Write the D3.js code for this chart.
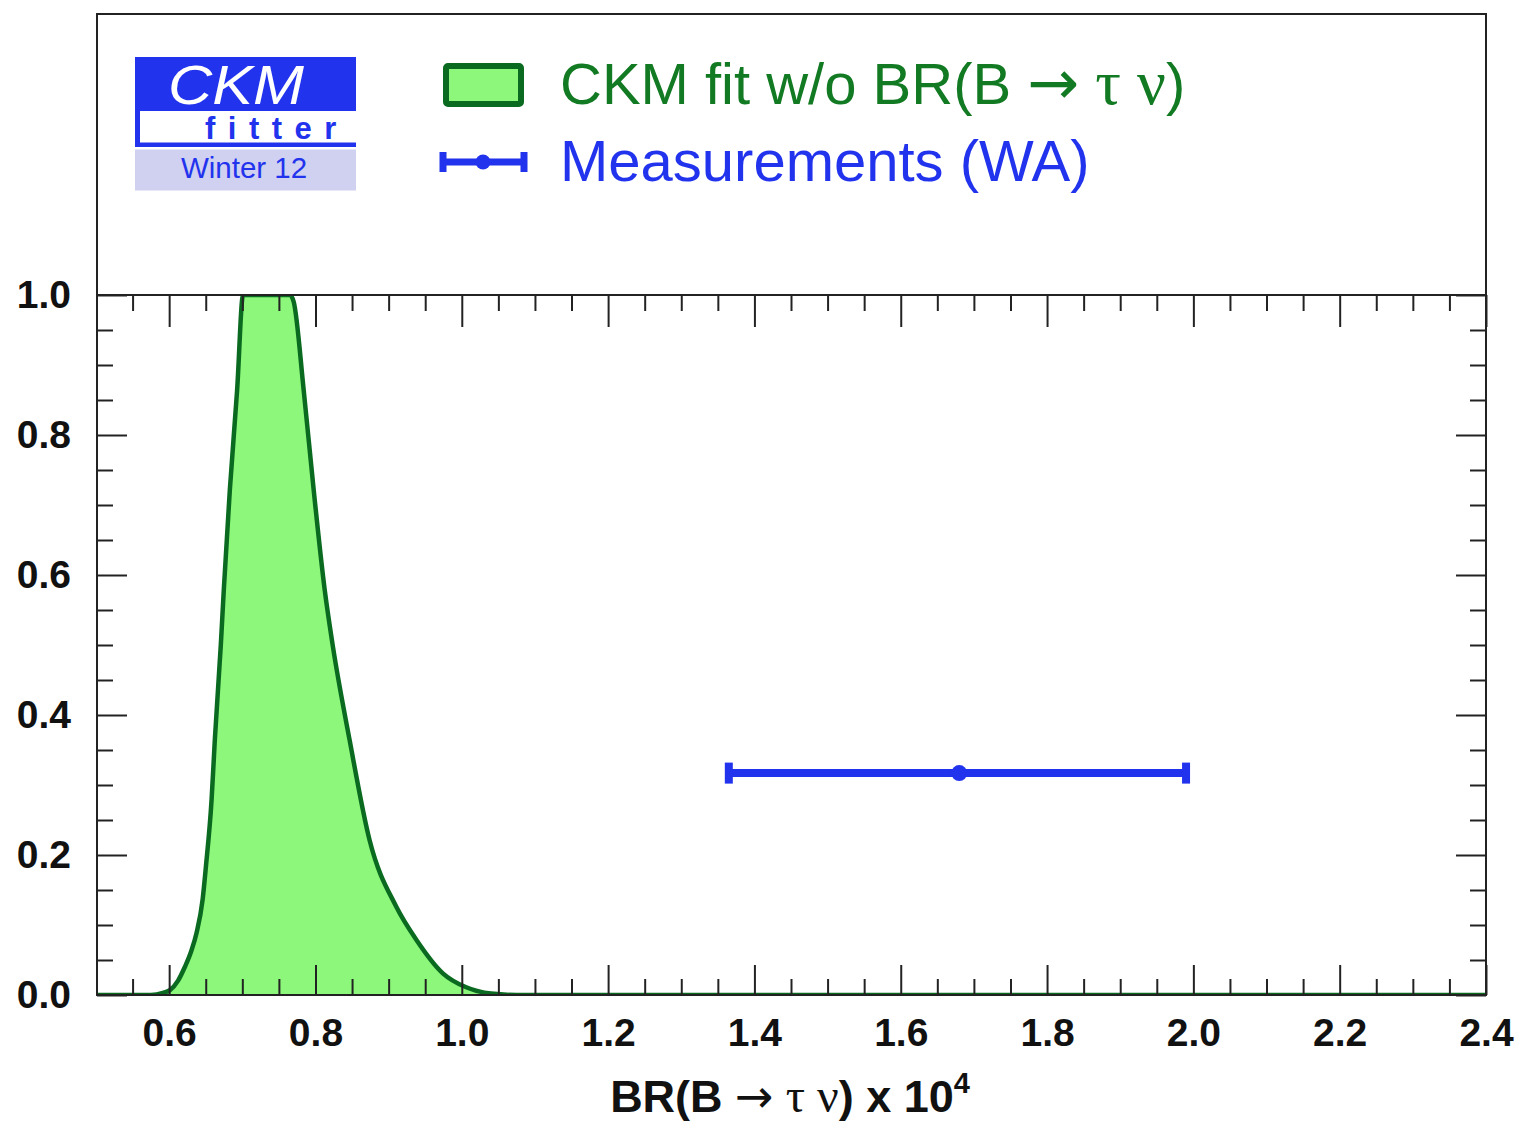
<!DOCTYPE html>
<html>
<head>
<meta charset="utf-8">
<script src="https://cdnjs.cloudflare.com/ajax/libs/d3/7.8.5/d3.min.js"></script>
<style>
  body { margin: 0; background: #fff; }
  text { font-family: "Liberation Sans", Arial, sans-serif; }
</style>
</head>
<body>
<svg width="1515" height="1123"></svg>
<script>
// CKM fit p-value curve (BR in units of 1e-4 vs 1-CL)
var brVals = [0.50, 0.575, 0.5915, 0.601, 0.6124, 0.6214, 0.6306, 0.6375, 0.6457, 0.6502, 0.658, 0.6624, 0.6706, 0.6747, 0.6829, 0.6929, 0.701,
              0.765, 0.7703, 0.7839, 0.7976, 0.8126, 0.8235, 0.8467, 0.874, 0.9105, 0.9378, 0.9741, 1.006, 1.04, 1.075, 2.40];
var pVals  = [0, 0, 0.003, 0.007, 0.021, 0.040, 0.064, 0.089, 0.136, 0.183, 0.279, 0.364, 0.5, 0.579, 0.721, 0.864, 1.0,
              1.0, 0.99, 0.864, 0.721, 0.579, 0.5, 0.364, 0.221, 0.126, 0.079, 0.031, 0.011, 0.002, 0, 0];

// world average measurement
var measCentral = [1.68];
var measLow = [1.365];
var measHigh = [1.99];
var measY = [0.317];

var xMajor = [0.6, 0.8, 1.0, 1.2, 1.4, 1.6, 1.8, 2.0, 2.2, 2.4];
var yMajor = [0.0, 0.2, 0.4, 0.6, 0.8, 1.0];

var green = '#117a22', greenFill = '#8cf77a', greenLine = '#0a6a20';
var blue = '#2233ee';
var arrowFont = '"DejaVu Sans", sans-serif';
var greekFont = '"Liberation Serif", serif';

var svg = d3.select('svg');
var pLeft = 96, pRight = 1486, pTop = 295, pBottom = 995;

var xscale = d3.scaleLinear().domain([0.5, 2.4]).range([pLeft, pRight]);
var yscale = d3.scaleLinear().domain([0, 1]).range([pBottom, pTop]);

var xMinor = d3.range(0.55, 2.4, 0.05).filter(v => Math.abs(v*5 - Math.round(v*5)) > 1e-6);
var yMinor = d3.range(0.05, 1.0, 0.05).filter(v => Math.abs(v*5 - Math.round(v*5)) > 1e-6);

svg.append('rect').attr('width', 1515).attr('height', 1123).attr('fill', '#fff');

// clip for the plot area
svg.append('clipPath').attr('id', 'plotclip')
  .append('rect').attr('x', pLeft).attr('y', pTop).attr('width', pRight-pLeft).attr('height', pBottom-pTop);

// curve
var pts = brVals.map((d, i) => [d, pVals[i]]);
var area = d3.area()
  .x(d => xscale(d[0]))
  .y0(yscale(0))
  .y1(d => yscale(d[1]))
  .curve(d3.curveMonotoneX);
var line = d3.line()
  .x(d => xscale(d[0]))
  .y(d => yscale(d[1]))
  .curve(d3.curveMonotoneX);

var plot = svg.append('g').attr('clip-path', 'url(#plotclip)');
plot.append('path').datum(pts).attr('d', area).attr('fill', greenFill);
plot.append('path').datum(pts).attr('d', line).attr('fill', 'none')
  .attr('stroke', greenLine).attr('stroke-width', 4.5).attr('stroke-linejoin', 'round');

// axes
var fmt = d3.format('.1f');
function styleAxis(g) {
  g.select('.domain').remove();
  g.selectAll('line').attr('stroke', '#222').attr('stroke-width', 2);
  g.selectAll('text').attr('font-size', 39).attr('font-weight', 'bold')
    .attr('fill', '#111').attr('font-family', '"Liberation Sans", Arial, sans-serif');
}

svg.append('g').attr('transform', `translate(0,${pBottom})`)
  .call(d3.axisBottom(xscale).tickValues(xMajor).tickFormat(fmt).tickSize(-30).tickPadding(23))
  .call(styleAxis);
svg.append('g').attr('transform', `translate(0,${pBottom})`)
  .call(d3.axisBottom(xscale).tickValues(xMinor).tickFormat('').tickSize(-16))
  .call(styleAxis);
svg.append('g').attr('transform', `translate(0,${pTop})`)
  .call(d3.axisTop(xscale).tickValues(xMajor).tickFormat('').tickSize(-32))
  .call(styleAxis);
svg.append('g').attr('transform', `translate(0,${pTop})`)
  .call(d3.axisTop(xscale).tickValues(xMinor).tickFormat('').tickSize(-16))
  .call(styleAxis);

svg.append('g').attr('transform', `translate(${pLeft+1},0)`)
  .call(d3.axisLeft(yscale).tickValues(yMajor).tickFormat(fmt).tickSize(-30).tickPadding(26))
  .call(styleAxis);
svg.append('g').attr('transform', `translate(${pLeft+1},0)`)
  .call(d3.axisLeft(yscale).tickValues(yMinor).tickFormat('').tickSize(-16))
  .call(styleAxis);
svg.append('g').attr('transform', `translate(${pRight},0)`)
  .call(d3.axisRight(yscale).tickValues(yMajor).tickFormat('').tickSize(-30))
  .call(styleAxis);
svg.append('g').attr('transform', `translate(${pRight},0)`)
  .call(d3.axisRight(yscale).tickValues(yMinor).tickFormat('').tickSize(-16))
  .call(styleAxis);

// frame
svg.append('rect').attr('x', pLeft+1).attr('y', 14).attr('width', pRight-pLeft-1).attr('height', pBottom-14)
  .attr('fill', 'none').attr('stroke', '#222').attr('stroke-width', 2);
svg.append('line').attr('x1', pLeft+1).attr('x2', pRight).attr('y1', pTop).attr('y2', pTop)
  .attr('stroke', '#222').attr('stroke-width', 2);

// measurement error bar
var meas = svg.append('g').attr('fill', blue).attr('stroke', blue);
measCentral.forEach((c, i) => {
  var yy = yscale(measY[i]);
  meas.append('line').attr('x1', xscale(measLow[i])).attr('x2', xscale(measHigh[i]))
    .attr('y1', yy).attr('y2', yy).attr('stroke-width', 8);
  [measLow[i], measHigh[i]].forEach(v => {
    meas.append('rect').attr('x', xscale(v) - 4).attr('y', yy - 10.5)
      .attr('width', 8).attr('height', 21).attr('stroke', 'none');
  });
  meas.append('circle').attr('cx', xscale(c)).attr('cy', yy).attr('r', 8).attr('stroke', 'none');
});

// axis title
var title = svg.append('text').attr('x', 790).attr('y', 1112).attr('text-anchor', 'middle')
  .attr('font-size', 45).attr('font-weight', 'bold').attr('fill', '#111');
title.append('tspan').text('BR(B ');
title.append('tspan').attr('font-family', arrowFont).attr('font-weight', 'normal').attr('font-size', 46).text('\u2192');
title.append('tspan').attr('font-family', greekFont).attr('font-weight', 'normal').attr('font-size', 48).text(' \u03c4 \u03bd');
title.append('tspan').text(') x 10');
title.append('tspan').attr('font-size', 29).attr('dy', -19).text('4');

// CKMfitter logo
var logo = svg.append('g');
logo.append('rect').attr('x', 135).attr('y', 57).attr('width', 221).attr('height', 90).attr('fill', blue);
logo.append('rect').attr('x', 140).attr('y', 111).attr('width', 216).attr('height', 31.5).attr('fill', '#fff');
logo.append('rect').attr('x', 135).attr('y', 149.5).attr('width', 221).attr('height', 41).attr('fill', '#d0d0f0');
logo.append('text').attr('x', 168).attr('y', 104).attr('font-size', 55).attr('font-style', 'italic')
  .attr('textLength', 136).attr('lengthAdjust', 'spacingAndGlyphs')
  .attr('fill', '#fff').text('CKM');
logo.append('text').attr('x', 205).attr('y', 139).attr('font-size', 31).attr('font-weight', 'bold')
  .attr('letter-spacing', 12.5).attr('fill', blue).text('fitter');
logo.append('text').attr('x', 244).attr('y', 178).attr('text-anchor', 'middle').attr('font-size', 29.5)
  .attr('fill', blue).text('Winter 12');

// legend
var leg = svg.append('g');
leg.append('rect').attr('x', 446).attr('y', 66).attr('width', 75).attr('height', 38)
  .attr('fill', greenFill).attr('stroke', greenLine).attr('stroke-width', 6).attr('rx', 2);
var t1 = leg.append('text').attr('x', 560).attr('y', 104).attr('font-size', 58).attr('fill', green);
t1.append('tspan').text('CKM fit w/o BR(B ');
t1.append('tspan').attr('font-family', arrowFont).attr('font-size', 62).text('\u2192');
t1.append('tspan').attr('font-family', greekFont).attr('font-size', 64).text(' \u03c4 \u03bd');
t1.append('tspan').text(')');

leg.append('line').attr('x1', 443).attr('x2', 524).attr('y1', 162).attr('y2', 162)
  .attr('stroke', blue).attr('stroke-width', 7);
[443, 524].forEach(x => leg.append('rect').attr('x', x - 3.5).attr('y', 152).attr('width', 7).attr('height', 20).attr('fill', blue));
leg.append('circle').attr('cx', 483).attr('cy', 162).attr('r', 7.5).attr('fill', blue);
leg.append('text').attr('x', 560).attr('y', 181).attr('font-size', 58).attr('fill', blue).text('Measurements (WA)');
</script>
</body>
</html>
